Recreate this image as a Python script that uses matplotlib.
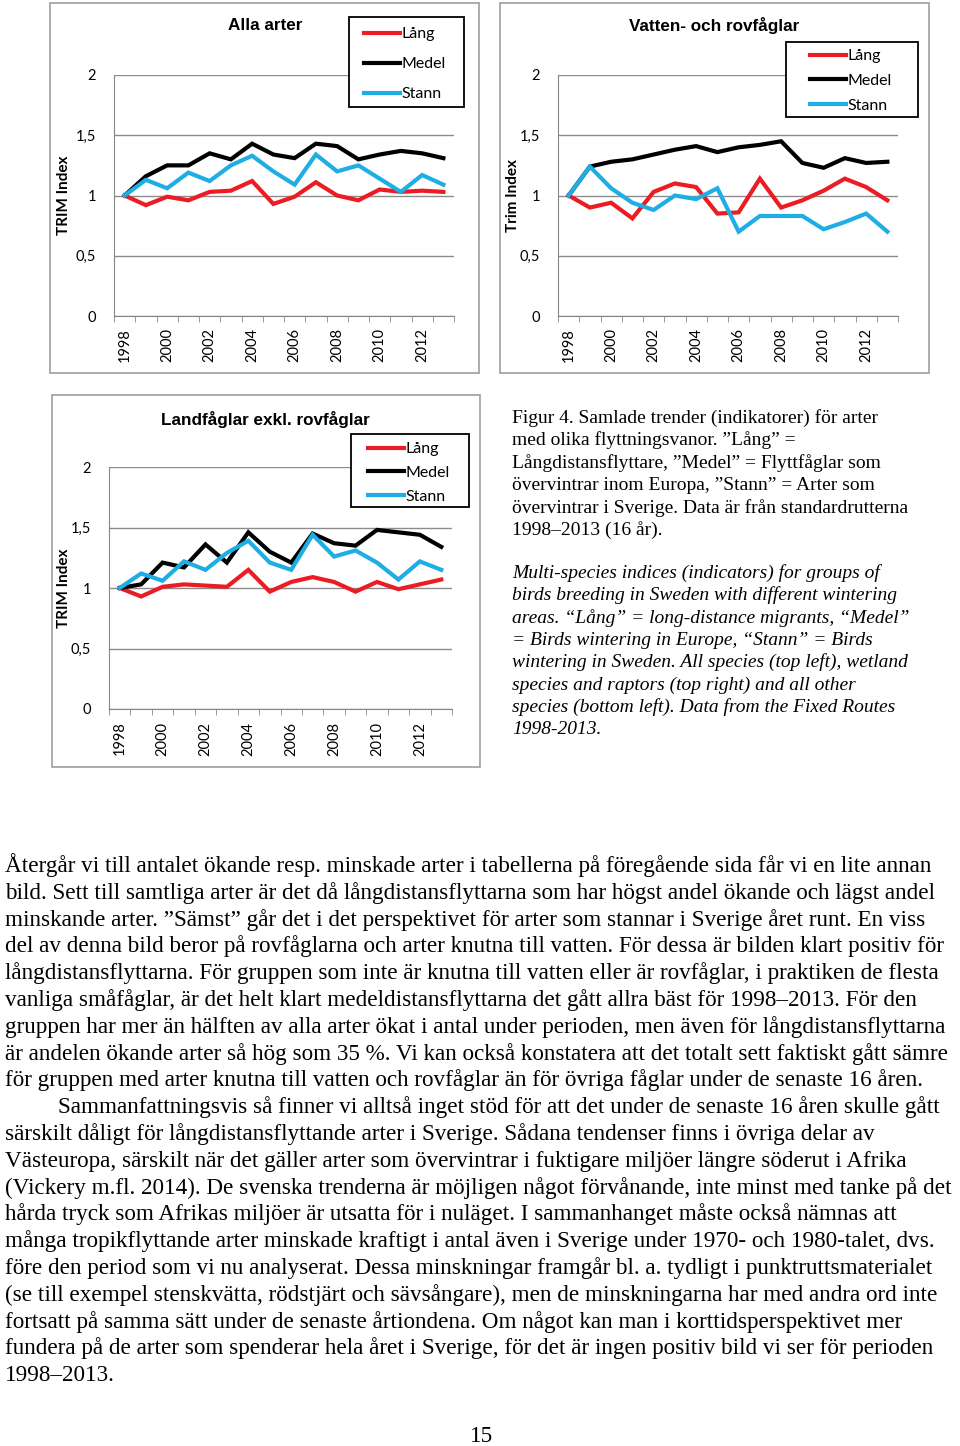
import numpy as np
import matplotlib
matplotlib.use("Agg")
from matplotlib import pyplot as plt
from matplotlib.patches import Rectangle

# data
years = list(range(1998, 2014))
series_names = ["Lång", "Medel", "Stann"]

alla_lang = [1.00, 0.92, 0.99, 0.96, 1.03, 1.04, 1.12, 0.93, 0.99, 1.11, 1.00, 0.96, 1.05, 1.03, 1.04, 1.03]
alla_medel = [1.00, 1.16, 1.25, 1.25, 1.35, 1.30, 1.43, 1.34, 1.31, 1.43, 1.41, 1.30, 1.34, 1.37, 1.35, 1.31]
alla_stann = [1.00, 1.13, 1.06, 1.19, 1.12, 1.25, 1.33, 1.20, 1.09, 1.34, 1.20, 1.25, 1.14, 1.03, 1.17, 1.09]

vatten_lang = [1.00, 0.90, 0.94, 0.81, 1.03, 1.10, 1.07, 0.85, 0.86, 1.14, 0.90, 0.96, 1.04, 1.14, 1.07, 0.96]
vatten_medel = [1.00, 1.24, 1.28, 1.30, 1.34, 1.38, 1.41, 1.36, 1.40, 1.42, 1.45, 1.27, 1.23, 1.31, 1.27, 1.28]
vatten_stann = [1.00, 1.24, 1.06, 0.94, 0.88, 1.00, 0.97, 1.06, 0.70, 0.83, 0.83, 0.83, 0.72, 0.78, 0.85, 0.70]

land_lang = [1.00, 0.93, 1.01, 1.03, 1.02, 1.01, 1.15, 0.97, 1.05, 1.09, 1.05, 0.97, 1.05, 0.99, 1.03, 1.07]
land_medel = [1.00, 1.03, 1.21, 1.17, 1.36, 1.21, 1.46, 1.30, 1.21, 1.45, 1.37, 1.35, 1.48, 1.46, 1.44, 1.34]
land_stann = [1.00, 1.12, 1.06, 1.22, 1.15, 1.29, 1.39, 1.21, 1.15, 1.44, 1.26, 1.31, 1.21, 1.07, 1.22, 1.15]

y_ticks = [0, 0.5, 1, 1.5, 2]
y_ticklabels = ["0", "0,5", "1", "1,5", "2"]

caption_sv = [
    "Figur 4. Samlade trender (indikatorer) för arter",
    "med olika flyttningsvanor. ”Lång” =",
    "Långdistansflyttare, ”Medel” = Flyttfåglar som",
    "övervintrar inom Europa, ”Stann” = Arter som",
    "övervintrar i Sverige. Data är från standardrutterna",
    "1998–2013 (16 år).",
]
caption_en = [
    "Multi-species indices (indicators) for groups of",
    "birds breeding in Sweden with different wintering",
    "areas. “Lång” = long-distance migrants, “Medel”",
    "= Birds wintering in Europe, “Stann” = Birds",
    "wintering in Sweden. All species (top left), wetland",
    "species and raptors (top right) and all other",
    "species (bottom left). Data from the Fixed Routes",
    "1998-2013.",
]
body = [
    "Återgår vi till antalet ökande resp. minskade arter i tabellerna på föregående sida får vi en lite annan",
    "bild. Sett till samtliga arter är det då långdistansflyttarna som har högst andel ökande och lägst andel",
    "minskande arter. ”Sämst” går det i det perspektivet för arter som stannar i Sverige året runt. En viss",
    "del av denna bild beror på rovfåglarna och arter knutna till vatten. För dessa är bilden klart positiv för",
    "långdistansflyttarna. För gruppen som inte är knutna till vatten eller är rovfåglar, i praktiken de flesta",
    "vanliga småfåglar, är det helt klart medeldistansflyttarna det gått allra bäst för 1998–2013. För den",
    "gruppen har mer än hälften av alla arter ökat i antal under perioden, men även för långdistansflyttarna",
    "är andelen ökande arter så hög som 35 %. Vi kan också konstatera att det totalt sett faktiskt gått sämre",
    "för gruppen med arter knutna till vatten och rovfåglar än för övriga fåglar under de senaste 16 åren.",
    "Sammanfattningsvis så finner vi alltså inget stöd för att det under de senaste 16 åren skulle gått",
    "särskilt dåligt för långdistansflyttande arter i Sverige. Sådana tendenser finns i övriga delar av",
    "Västeuropa, särskilt när det gäller arter som övervintrar i fuktigare miljöer längre söderut i Afrika",
    "(Vickery m.fl. 2014). De svenska trenderna är möjligen något förvånande, inte minst med tanke på det",
    "hårda tryck som Afrikas miljöer är utsatta för i nuläget. I sammanhanget måste också nämnas att",
    "många tropikflyttande arter minskade kraftigt i antal även i Sverige under 1970- och 1980-talet, dvs.",
    "före den period som vi nu analyserat. Dessa minskningar framgår bl. a. tydligt i punktruttsmaterialet",
    "(se till exempel stenskvätta, rödstjärt och sävsångare), men de minskningarna har med andra ord inte",
    "fortsatt på samma sätt under de senaste årtiondena. Om något kan man i korttidsperspektivet mer",
    "fundera på de arter som spenderar hela året i Sverige, för det är ingen positiv bild vi ser för perioden",
    "1998–2013.",
]
page_no = "15"

# figure
W, H = 960, 1446
fig = plt.figure(figsize=(W / 100, H / 100), dpi=100)

colors = ["#ec1c24", "#000000", "#1eaee4"]
chart_font = ["Lato", "DejaVu Sans"]
serif = ["Liberation Serif", "DejaVu Serif"]


def fx(x):
    return x / W


def fy(y):
    return 1 - y / H


def frame_rect(x0, y0, x1, y1, **kw):
    return Rectangle((fx(x0), fy(y1)), fx(x1 - x0), (y1 - y0) / H, transform=fig.transFigure, **kw)


def make_chart(box, area, title, title_xy, ylabel, ylabel_xy, legend_box, legend_xy, lspace, data):
    fig.patches.append(frame_rect(*box, fill=False, edgecolor="#a6a6a6", linewidth=1.3))
    ax = fig.add_axes([fx(area[0]), fy(area[3]), fx(area[2] - area[0]), (area[3] - area[1]) / H])
    x = np.arange(len(years))
    for vals, c, name in zip(data, colors, series_names):
        ax.plot(x, vals, color=c, lw=3.0, label=name, solid_joinstyle="miter")
    ax.set_ylim(0, 2)
    ax.set_xlim(-0.5, len(years) - 0.5)
    ax.set_yticks(y_ticks)
    ax.set_yticklabels(y_ticklabels, fontfamily=chart_font, fontsize=10.5)
    ax.tick_params(axis="y", length=0, pad=13)
    ax.set_xticks(x[::2])
    ax.set_xticklabels([str(y) for y in years[::2]], rotation=90, fontfamily=chart_font, fontsize=10.5)
    ax.set_xticks(np.arange(-0.5, len(years)), minor=True)
    ax.tick_params(axis="x", which="major", length=0, pad=9)
    ax.tick_params(axis="x", which="minor", length=4, color="#868686", direction="out")
    ax.grid(axis="y", color="#8c8c8c", lw=1.0)
    ax.set_axisbelow(True)
    for s in ["top", "right"]:
        ax.spines[s].set_visible(False)
    for s in ["left", "bottom"]:
        ax.spines[s].set_color("#868686")
    fig.text(fx(title_xy[0]), fy(title_xy[1]), title, ha="center", va="center",
             fontfamily=["Liberation Sans", "DejaVu Sans"], fontweight="bold", fontsize=12.3)
    fig.text(fx(ylabel_xy[0]), fy(ylabel_xy[1]), ylabel, ha="center", va="center", rotation=90,
             fontfamily=chart_font, fontweight="bold", fontsize=11)
    # legend: white box with black edge drawn by hand, entries placed inside it
    ax.add_patch(frame_rect(*legend_box, facecolor="white", edgecolor="black", linewidth=1.3,
                            clip_on=False, zorder=4))
    ax.legend(loc="upper left", bbox_to_anchor=(fx(legend_xy[0]), fy(legend_xy[1])),
              bbox_transform=fig.transFigure, borderaxespad=0, borderpad=0, frameon=False,
              handlelength=2.25, handletextpad=0.12, labelspacing=lspace,
              prop={"family": chart_font, "size": 11.5})
    return ax


make_chart((50, 3, 479, 373), (114, 75, 454, 316), "Alla arter", (265, 26), "TRIM Index", (64, 195),
           (349, 17, 464, 107), (364, 27), 1.0, [alla_lang, alla_medel, alla_stann])
make_chart((500, 3, 929, 373), (558, 75, 898, 316), "Vatten- och rovfåglar", (714, 26), "Trim Index", (513, 195),
           (786, 42, 918, 117), (810, 49), 0.67, [vatten_lang, vatten_medel, vatten_stann])
make_chart((52, 395, 480, 767), (109, 467, 452, 709), "Landfåglar exkl. rovfåglar", (265, 419), "TRIM Index",
           (64, 588), (351, 434, 469, 507), (368, 442), 0.6, [land_lang, land_medel, land_stann])

# figure caption
for i, line in enumerate(caption_sv):
    fig.text(fx(512), fy(423 + 22.4 * i), line, ha="left", va="baseline", fontfamily=serif, fontsize=14.0)
for i, line in enumerate(caption_en):
    fig.text(fx(512), fy(578 + 22.3 * i), line, ha="left", va="baseline", fontfamily=serif, fontsize=14.0,
             fontstyle="italic")

# body text, shrink a line a little if it would run off the page
renderer = fig.canvas.get_renderer()
for i, line in enumerate(body):
    x0 = 58 if i == 9 else 5
    t = fig.text(fx(x0), fy(872 + 26.8 * i), line, ha="left", va="baseline", fontfamily=serif, fontsize=16.7)
    while t.get_window_extent(renderer).x1 > 957:
        t.set_fontsize(t.get_fontsize() - 0.1)

fig.text(fx(482), fy(1442), page_no, ha="center", va="baseline", fontfamily=serif, fontsize=16.7)

fig.savefig("out.png", dpi=100)
